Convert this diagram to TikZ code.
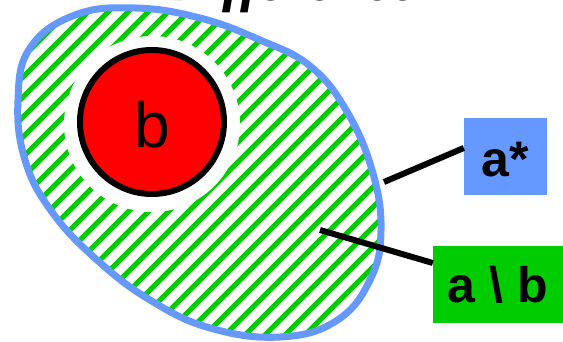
\documentclass[tikz,border=0pt]{standalone}
\usepackage{fontspec}
\newfontfamily\labfont{Liberation Sans}
\newfontfamily\titlefont{Liberation Serif}
\definecolor{setblue}{HTML}{6699FF}
\definecolor{setgreen}{HTML}{00CC00}
\definecolor{setred}{HTML}{FF0000}
\tikzset{
  labelbox/.style={draw=none, inner sep=0pt, minimum height=77pt, text depth=0pt,
    font=\labfont\bfseries\fontsize{50}{50}\selectfont},
  connector/.style={draw=black, line width=6pt},
  hatchline/.style={draw=setgreen, line width=5pt},
}
\def\blobpath{plot[smooth cycle, tension=0.7] coordinates {(18,100) (30,48) (75,15) (135,8) (200,18) (260,40) (310,66) (346,110) (372,170) (381,230) (370,280) (336,321) (280,337) (210,328) (150,300) (97,260) (52,212) (25,160)}}
\begin{document}
\begin{tikzpicture}[x=1pt, y=-1pt]
\useasboundingbox (0,0) rectangle (563,342);
% title (cut off at the top, as in the reference)
\node[anchor=base west, inner sep=0pt, font=\titlefont\bfseries\itshape\fontsize{58}{58}\selectfont] (title) at (164,1) {Difference};
% blob
\fill[white] \blobpath;
\begin{scope}
  \clip \blobpath;
  \foreach \c in {-400,-380,...,600} {
    \draw[hatchline] (\c,360) -- (\c+380,-20);
  }
  \fill[white] (152,124) circle[radius=88];
\end{scope}
\draw[setblue, line width=7pt] \blobpath;
% set b
\node[circle, fill=setred, draw=black, line width=6pt, minimum size=144pt, inner sep=0pt] (b) at (152,122) {};
\node[anchor=base, inner sep=0pt, font=\labfont\fontsize{64}{64}\selectfont] (btext) at (152,148) {b};
% labels
\node[labelbox, fill=setblue, minimum width=83pt, text height=41pt] (astar) at (505.5,156.5) {a*};
\node[labelbox, fill=setgreen, minimum width=130pt, text height=35pt] (adiffb) at (498,284.5) {a \textbackslash\ b};
% connectors
\coordinate (p1) at (384,182);
\coordinate (p2) at (320,230);
\draw[connector] (p1) -- ([yshift=8.5pt]astar.west);
\draw[connector] (p2) -- ([yshift=21.5pt]adiffb.west);
\end{tikzpicture}
\end{document}
